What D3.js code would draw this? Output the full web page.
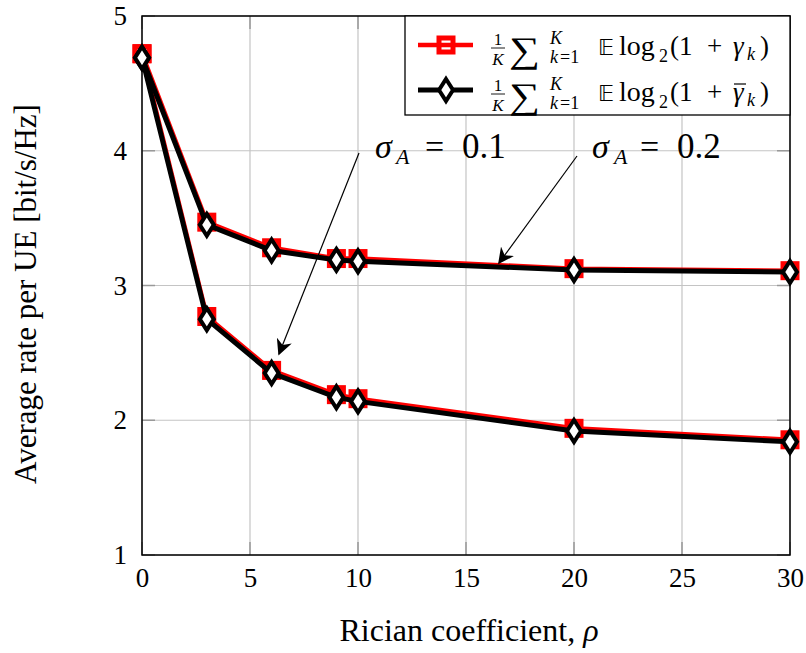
<!DOCTYPE html>
<html>
<head>
<meta charset="utf-8">
<script src="https://cdn.jsdelivr.net/npm/d3@7"></script>
<style>
  body { margin: 0; background: #fff; }
  svg text { font-family: "Liberation Serif", "DejaVu Serif", serif; }
</style>
</head>
<body>
<div class="chart"></div>
<script>
const rho = [0, 3, 6, 9, 10, 20, 30];
// sigma_A = 0.2 curves
const exact02 = [4.72, 3.47, 3.28, 3.2, 3.2, 3.125, 3.11];
const approx02 = [4.69, 3.45, 3.26, 3.19, 3.18, 3.115, 3.1];
// sigma_A = 0.1 curves
const exact01 = [4.72, 2.77, 2.37, 2.19, 2.16, 1.94, 1.855];
const approx01 = [4.69, 2.75, 2.35, 2.17, 2.14, 1.92, 1.84];
const xTicks = [0, 5, 10, 15, 20, 25, 30];
const yTicks = [1, 2, 3, 4, 5];

const W = 806, H = 653;
const margin = { top: 16, left: 142 };
const width = 790 - margin.left, height = 555 - margin.top;
const serif = "'Liberation Serif', serif";

const svg = d3.select(".chart").append("svg")
  .attr("width", W).attr("height", H);
const g = svg.append("g")
  .attr("transform", `translate(${margin.left},${margin.top})`);

const x = d3.scaleLinear().domain([0, 30]).range([0, width]);
const y = d3.scaleLinear().domain([1, 5]).range([height, 0]);

// grid
g.append("g").selectAll("line").data(xTicks).enter().append("line")
  .attr("x1", d => x(d)).attr("x2", d => x(d))
  .attr("y1", 0).attr("y2", height)
  .attr("stroke", "#c4c4c4").attr("stroke-width", 1.2);
g.append("g").selectAll("line").data(yTicks).enter().append("line")
  .attr("y1", d => y(d)).attr("y2", d => y(d))
  .attr("x1", 0).attr("x2", width)
  .attr("stroke", "#c4c4c4").attr("stroke-width", 1.2);

// small inner tick marks
const tk = 13;
xTicks.forEach(t => {
  g.append("line").attr("x1", x(t)).attr("x2", x(t)).attr("y1", height).attr("y2", height - tk)
    .attr("stroke", "#999").attr("stroke-width", 1.5);
  g.append("line").attr("x1", x(t)).attr("x2", x(t)).attr("y1", 0).attr("y2", tk)
    .attr("stroke", "#999").attr("stroke-width", 1.5);
});
yTicks.forEach(t => {
  g.append("line").attr("y1", y(t)).attr("y2", y(t)).attr("x1", 0).attr("x2", tk)
    .attr("stroke", "#999").attr("stroke-width", 1.5);
  g.append("line").attr("y1", y(t)).attr("y2", y(t)).attr("x1", width).attr("x2", width - tk)
    .attr("stroke", "#999").attr("stroke-width", 1.5);
});

// axes (labels only)
const xAxis = d3.axisBottom(x).tickValues(xTicks).tickSize(0).tickPadding(13).tickFormat(d3.format("d"));
g.append("g").attr("transform", `translate(0,${height})`).call(xAxis)
  .attr("font-family", serif).attr("font-size", 27)
  .call(s => s.select(".domain").remove())
  .selectAll("text").attr("fill", "#000");
const yAxis = d3.axisLeft(y).tickValues(yTicks).tickSize(0).tickPadding(15).tickFormat(d3.format("d"));
g.append("g").call(yAxis)
  .attr("font-family", serif).attr("font-size", 27)
  .call(s => s.select(".domain").remove())
  .selectAll("text").attr("fill", "#000");

// frame
g.append("rect").attr("width", width).attr("height", height)
  .attr("fill", "none").attr("stroke", "#000").attr("stroke-width", 1.5);

const line = d3.line().x((d, i) => x(rho[i])).y(d => y(d));

function drawSquares(vals) {
  g.append("g").selectAll("rect").data(vals).enter().append("rect")
    .attr("x", (d, i) => x(rho[i]) - 7).attr("y", d => y(d) - 7)
    .attr("width", 14).attr("height", 14)
    .attr("fill", "#fff").attr("stroke", "#ff0000").attr("stroke-width", 5);
}
function diamond(cx, cy) {
  return `M${cx},${cy - 11}L${cx + 7},${cy}L${cx},${cy + 11}L${cx - 7},${cy}Z`;
}
function drawDiamonds(vals) {
  g.append("g").selectAll("path").data(vals).enter().append("path")
    .attr("d", (d, i) => diamond(x(rho[i]), y(d)))
    .attr("fill", "#fff").attr("stroke", "#000").attr("stroke-width", 4);
}

[exact02, exact01].forEach(v => {
  g.append("path").datum(v).attr("d", line).attr("fill", "none")
    .attr("stroke", "#ff0000").attr("stroke-width", 4.5);
});
[exact02, exact01].forEach(drawSquares);
[approx02, approx01].forEach(v => {
  g.append("path").datum(v).attr("d", line).attr("fill", "none")
    .attr("stroke", "#000").attr("stroke-width", 5);
});
[approx02, approx01].forEach(drawDiamonds);

// annotations with arrows
svg.append("defs").append("marker")
  .attr("id", "arr").attr("viewBox", "0 0 10 10").attr("refX", 9).attr("refY", 5)
  .attr("markerWidth", 16).attr("markerHeight", 16).attr("markerUnits", "userSpaceOnUse")
  .attr("orient", "auto")
  .append("path").attr("d", "M0,0 L10,5 L0,10 L3,5 Z").attr("fill", "#000");

function annot(label, xs, x1, y1, x2, y2) {
  svg.append("line").attr("x1", x1).attr("y1", y1).attr("x2", x2).attr("y2", y2)
    .attr("stroke", "#000").attr("stroke-width", 1.2).attr("marker-end", "url(#arr)");
  const a = svg.append("g");
  a.append("text").attr("x", xs[0]).attr("y", 158).attr("font-size", 34).attr("font-style", "italic").text("σ");
  a.append("text").attr("x", xs[1]).attr("y", 164).attr("font-size", 22).attr("font-style", "italic").text("A");
  a.append("text").attr("x", xs[2]).attr("y", 158).attr("font-size", 34).text("=");
  a.append("text").attr("x", xs[3]).attr("y", 158).attr("font-size", 35).text(label);
}
annot("0.1", [375, 396, 425, 462], 359, 153, 279, 354);
annot("0.2", [592, 614, 640, 677], 577, 156, 499, 263);

// legend
const lg = svg.append("g");
lg.append("rect").attr("x", 405).attr("y", 16).attr("width", 385).attr("height", 99)
  .attr("fill", "#fff").attr("stroke", "#000").attr("stroke-width", 1.3);

function legendRow(base, bar) {
  const grp = lg.append("g");
  const fx = 498;
  grp.append("text").attr("x", fx).attr("y", base - 10).attr("font-size", 17).attr("text-anchor", "middle").text("1");
  grp.append("line").attr("x1", fx - 7).attr("x2", fx + 7).attr("y1", base - 7).attr("y2", base - 7).attr("stroke", "#000").attr("stroke-width", 0.9);
  grp.append("text").attr("x", fx).attr("y", base + 10).attr("font-size", 17).attr("font-style", "italic").attr("text-anchor", "middle").text("K");
  grp.append("text").attr("transform", `translate(509,${base + 7}) scale(1.45,1.2)`).attr("font-size", 30)
    .text("∑");
  grp.append("text").attr("x", 550).attr("y", base - 11).attr("font-size", 18).attr("font-style", "italic").text("K");
  grp.append("text").attr("x", 550).attr("y", base + 8).attr("font-size", 18).attr("font-style", "italic").text("k");
  grp.append("text").attr("x", 560).attr("y", base + 8).attr("font-size", 18).text("=1");
  grp.append("text").attr("x", 598).attr("y", base).attr("font-size", 22)
    .style("font-family", "'DejaVu Sans', sans-serif").text("𝔼");
  grp.append("text").attr("x", 619).attr("y", base).attr("font-size", 28).text("log");
  grp.append("text").attr("x", 659).attr("y", base + 7).attr("font-size", 18).text("2");
  grp.append("text").attr("x", 670).attr("y", base).attr("font-size", 27).text("(1");
  grp.append("text").attr("x", 707).attr("y", base).attr("font-size", 27).text("+");
  grp.append("text").attr("x", 733).attr("y", base).attr("font-size", 27).attr("font-style", "italic").text("γ");
  grp.append("text").attr("x", 747).attr("y", base + 5).attr("font-size", 18).attr("font-style", "italic").text("k");
  grp.append("text").attr("x", 760).attr("y", base).attr("font-size", 27).text(")");
  if (bar) {
    grp.append("line").attr("x1", 734).attr("x2", 746).attr("y1", base - 17).attr("y2", base - 17)
      .attr("stroke", "#000").attr("stroke-width", 1.2);
  }
  return grp;
}
const r1 = legendRow(55, false);
r1.append("rect").attr("x", 439).attr("y", 38).attr("width", 14).attr("height", 14)
  .attr("fill", "#fff").attr("stroke", "#ff0000").attr("stroke-width", 5);
r1.append("line").attr("x1", 418).attr("x2", 473).attr("y1", 45).attr("y2", 45).attr("stroke", "#ff0000").attr("stroke-width", 4.5);
const r2 = legendRow(101, true);
r2.append("line").attr("x1", 418).attr("x2", 473).attr("y1", 90).attr("y2", 90).attr("stroke", "#000").attr("stroke-width", 5);
r2.append("path").attr("d", diamond(446, 90)).attr("fill", "#fff").attr("stroke", "#000").attr("stroke-width", 4);

// axis titles
svg.append("text").attr("x", 469).attr("y", 641).attr("text-anchor", "middle").attr("font-size", 32)
  .text("Rician coefficient, ").append("tspan").attr("font-style", "italic").text("ρ");
svg.append("text").attr("transform", "translate(36,294) rotate(-90)").attr("text-anchor", "middle")
  .attr("font-size", 31).text("Average rate per UE [bit/s/Hz]");
</script>
</body>
</html>
